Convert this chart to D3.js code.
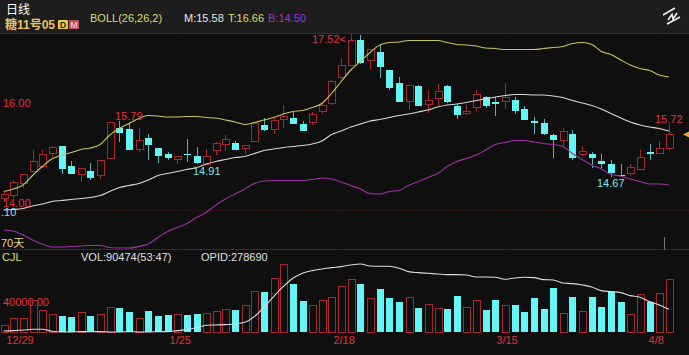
<!DOCTYPE html>
<html><head><meta charset="utf-8">
<script src="https://cdn.jsdelivr.net/npm/d3@7/dist/d3.min.js"></script>
<style>html,body{margin:0;padding:0;background:#0f0f0f;overflow:hidden}
svg{display:block}text{font-family:"Liberation Sans","Noto Sans CJK SC",sans-serif;font-size:11px}</style>
</head><body><svg id="c" width="689" height="355"></svg>
<script>
const open=[14.23,14.30,14.53,14.77,14.87,15.13,15.29,14.88,14.72,14.79,
14.69,15.03,15.65,15.63,15.22,15.45,15.25,15.12,15.01,15.13,
15.08,14.91,15.20,15.32,15.34,15.23,15.37,15.70,15.61,15.82,
15.85,15.73,15.75,15.97,16.13,16.65,16.90,17.40,16.99,17.17,
16.80,16.55,16.18,16.49,16.11,16.24,16.49,16.09,15.93,16.05,
16.27,16.17,16.18,16.21,16.03,15.79,15.75,15.50,15.39,15.52,
15.11,15.12,14.98,14.93,14.70,14.73,14.81,15.17,15.13,15.24];
const close=[14.31,14.55,14.71,14.97,15.12,15.26,14.83,14.73,14.83,14.64,
14.99,15.75,15.55,15.21,15.40,15.30,15.08,15.05,15.08,15.11,
14.95,15.08,15.33,15.41,15.21,15.30,15.73,15.61,15.79,15.87,
15.73,15.59,15.92,16.09,16.57,16.90,17.40,16.95,17.22,16.87,
16.45,16.17,16.50,16.09,16.19,16.37,16.16,15.91,15.97,16.31,
16.09,16.13,16.25,15.99,15.81,15.75,15.52,15.41,15.57,15.05,
15.17,15.05,14.93,14.74,14.68,14.85,15.06,15.13,15.24,15.51];
const high=[14.36,14.60,14.73,15.20,15.21,15.28,15.29,14.99,14.84,14.95,
14.99,15.75,15.79,15.75,15.65,15.52,15.25,15.17,15.08,15.43,
15.27,15.23,15.37,15.50,15.39,15.30,15.73,15.85,15.84,16.11,
15.97,15.79,15.97,16.15,16.60,17.03,17.52,17.50,17.22,17.32,
16.80,16.67,16.50,16.50,16.40,16.53,16.51,16.13,16.11,16.40,
16.29,16.27,16.55,16.27,16.09,15.87,15.82,15.53,15.65,15.61,
15.28,15.17,15.13,15.01,14.93,14.93,15.20,15.32,15.38,15.72];
const low=[14.16,14.25,14.45,14.75,14.85,15.07,14.73,14.72,14.57,14.61,
14.63,15.03,15.37,15.21,15.17,15.01,14.95,15.00,14.92,14.97,
14.93,14.91,15.10,15.19,15.20,15.12,15.37,15.59,15.53,15.65,
15.73,15.58,15.70,15.93,16.10,16.63,16.90,16.93,16.83,16.65,
16.40,16.16,16.00,16.08,15.95,16.08,16.15,15.83,15.91,15.99,
16.05,15.89,16.03,15.92,15.80,15.53,15.51,15.04,15.27,15.01,
15.09,14.85,14.85,14.67,14.68,14.68,14.80,15.00,15.12,15.21];
const bollUpper=[14.37,14.42,14.50,14.69,14.87,15.02,15.10,15.15,15.21,15.24,
15.31,15.50,15.63,15.73,15.83,15.89,15.88,15.86,15.86,15.87,
15.87,15.85,15.84,15.80,15.76,15.71,15.75,15.80,15.85,15.92,
15.97,15.99,16.05,16.13,16.33,16.57,16.80,16.97,17.15,17.30,
17.35,17.36,17.39,17.39,17.39,17.39,17.35,17.31,17.30,17.28,
17.24,17.23,17.21,17.21,17.21,17.21,17.23,17.25,17.27,17.33,
17.35,17.31,17.17,17.11,17.00,16.90,16.83,16.79,16.70,16.66];
const bollMid=[14.00,14.01,14.03,14.08,14.12,14.17,14.19,14.21,14.23,14.25,
14.29,14.37,14.45,14.49,14.53,14.60,14.69,14.73,14.77,14.81,
14.85,14.92,14.97,15.01,15.05,15.07,15.13,15.19,15.22,15.25,
15.27,15.29,15.32,15.38,15.51,15.58,15.66,15.72,15.78,15.81,
15.85,15.89,15.92,15.96,16.00,16.06,16.10,16.12,16.15,16.19,
16.22,16.26,16.29,16.31,16.31,16.30,16.30,16.28,16.25,16.19,
16.14,16.09,16.02,15.93,15.84,15.76,15.70,15.66,15.63,15.58];
const bollLower=[13.60,13.58,13.50,13.40,13.32,13.26,13.26,13.27,13.28,13.29,
13.29,13.25,13.24,13.24,13.27,13.32,13.45,13.57,13.65,13.73,
13.85,13.95,14.10,14.22,14.32,14.42,14.53,14.58,14.59,14.59,
14.59,14.59,14.61,14.64,14.62,14.56,14.49,14.42,14.33,14.32,
14.37,14.39,14.49,14.57,14.65,14.73,14.87,14.97,15.03,15.10,
15.20,15.31,15.35,15.39,15.39,15.36,15.33,15.31,15.27,15.13,
15.01,14.90,14.82,14.71,14.68,14.62,14.57,14.52,14.52,14.50];
const volume=[11450,22900,24000,53800,37800,29800,28600,26300,34300,28600,
30900,42900,41200,34300,23500,36100,28000,29800,30900,29200,
31500,32600,36100,38900,38300,46400,69200,69800,92700,116700,
82400,53200,46400,54900,60100,78400,89900,83600,57800,73800,
58400,52100,59500,42400,48100,41200,39500,63000,42900,53800,
37800,55500,46400,46400,34900,59500,40100,76700,32000,61200,
34900,60100,43500,68700,52100,30900,65200,52700,66400,90474];
const openInterest=[239690,240290,241490,242690,242690,239090,237890,237890,238490,238490,
238490,237890,237890,238490,237890,237890,238490,238490,240290,242090,
245690,249890,250490,251090,252290,255290,265490,282290,301490,319490,
334490,343490,348290,351290,353690,355490,358490,360290,356690,356090,
356090,352490,346490,344690,343490,342290,341090,341090,340490,336890,
336890,336290,332690,335090,336290,335690,332090,331490,326090,324890,
322490,318890,312290,310490,308690,303290,300290,292490,286490,278690];
const dateLabels=["12/29","1/25","2/18","3/15","4/8"];
const dateIndex=[2,18,35,52,68];
const dateNudge=[-3,3,3,2,-3];

const RED="#a8272e",TXT="#e2313a",CY="#62f6f6",CYW="#4fb4b4";
const svg=d3.select("#c");
svg.append("rect").attr("width",689).attr("height",355).attr("fill","#0f0f0f");
svg.append("rect").attr("width",689).attr("height",33).attr("fill","#1d1d1d");

const x=d3.scaleLinear().domain([0,69]).range([3.7,668.9]);
const y=d3.scaleLinear().domain([13.24,17.54]).range([248,33]);
const yV=d3.scaleLinear().domain([0,140000]).range([332.3,250.76]);
const yO=d3.scaleLinear().domain([237290,384050]).range([332.3,250.76]);

[[33,"#5e1b21",null],[y(14),"#3a1418","2,1"],[249,"#5e1b21",null]].forEach(([yy,c,d])=>{
  svg.append("line").attr("x1",0).attr("x2",689).attr("y1",yy).attr("y2",yy)
    .attr("stroke",c).attr("stroke-dasharray",d).attr("shape-rendering","crispEdges");
});
dateIndex.forEach(d=>{
  svg.append("line").attr("x1",Math.round(x(d))+.5).attr("x2",Math.round(x(d))+.5).attr("y1",33).attr("y2",333)
    .attr("stroke","#1f1314").attr("stroke-dasharray","1,2");
});
svg.append("line").attr("x1",664.5).attr("x2",664.5).attr("y1",237).attr("y2",250).attr("stroke","#777");

const idx=d3.range(70);
const W=7;
const g=svg.append("g").attr("shape-rendering","crispEdges");
const up=i=>close[i]>=open[i];
g.selectAll(".w").data(idx).join("line")
  .attr("x1",i=>Math.round(x(i))+.5).attr("x2",i=>Math.round(x(i))+.5)
  .attr("y1",i=>y(high[i])).attr("y2",i=>y(low[i]))
  .attr("stroke",i=>up(i)?RED:CYW);
g.selectAll(".b").data(idx).join("rect")
  .attr("x",i=>Math.round(x(i))-3).attr("width",W)
  .attr("y",i=>y(Math.max(open[i],close[i])))
  .attr("height",i=>Math.max(1,y(Math.min(open[i],close[i]))-y(Math.max(open[i],close[i]))))
  .attr("fill",i=>up(i)?"#0f0f0f":CY)
  .attr("stroke",i=>up(i)?RED:"none");

const T=(s,xx,yy,c,o={})=>svg.append("text").text(s).attr("x",xx).attr("y",yy).attr("fill",c)
  .attr("text-anchor",o.a||"start").attr("font-weight",o.w||null).style("font-size",(o.s||11)+"px");
T("40000.00",3,306,TXT);

const gv=svg.append("g").attr("shape-rendering","crispEdges");
gv.selectAll("rect").data(idx).join("rect")
  .attr("x",i=>Math.round(x(i))-3).attr("width",W)
  .attr("y",i=>yV(volume[i])).attr("height",i=>yV(0)-yV(volume[i]))
  .attr("fill",i=>up(i)?"none":CY)
  .attr("stroke",i=>up(i)?RED:"none");

const lineOf=(arr,sc)=>d3.line().x((d,i)=>x(i)).y(d=>sc(d)).curve(d3.curveMonotoneX)(arr);
[[bollUpper,y,"#c9c55c"],[bollMid,y,"#d9d9d9"],[bollLower,y,"#a02fa8"],[openInterest,yO,"#dcdcdc"]].forEach(([a,s,c])=>{
  svg.append("path").attr("d",lineOf(a,s)).attr("fill","none").attr("stroke",c).attr("stroke-width",1.1);
});

T("日线",6,14,"#ffffff",{s:12});
T("糖11号05",5,29,"#e8c468",{s:12,w:"bold"});
svg.append("rect").attr("x",58).attr("y",20).attr("width",10).attr("height",9).attr("rx",1).attr("fill","#e9d23c");
T("D",63,28,"#1d1d1d",{s:9,a:"middle",w:"bold"});
svg.append("rect").attr("x",69).attr("y",20).attr("width",10).attr("height",9).attr("rx",1).attr("fill","#c9485a");
T("M",74,28,"#e8b8b8",{s:9,a:"middle",w:"bold"});
T("BOLL(26,26,2)",90,22,"#dcdc6a");
T("M:15.58",184,22,"#e6e6e6");
T("T:16.66",228,22,"#dcdc6a");
T("B:14.50",268,22,"#a832c0");
T("17.52<",312,43,TXT);
T("16.00",3,107,TXT);
T("14.00",3,207,TXT);
T("15.79",115,120,TXT);
T("14.91",193,175,"#7fe6e6");
T("15.72",655,123,TXT);
T("14.67",597,187,"#7fe6e6");
T(".10",1,216,"#7fe6e6");
T("70天",1,247,"#e6d98a");
T("CJL",2,261,"#dcdc6a");
T("VOL:90474(53:47)",81,261,"#e0e0e0");
T("OPID:278690",201,261,"#e0e0e0");
dateLabels.forEach((d,k)=>T(d,x(dateIndex[k])+dateNudge[k],344,TXT,{a:"middle"}));

svg.append("path").attr("d","M683 134.5L689 131.5V137.5Z").attr("fill","#e8a83c");
svg.append("path").attr("d","M663 15L675 8M667 24L680 17M668 20L672 14.5L673 19L677 13")
  .attr("stroke","#f0f0f0").attr("stroke-width",1.6).attr("fill","none");
</script></body></html>
